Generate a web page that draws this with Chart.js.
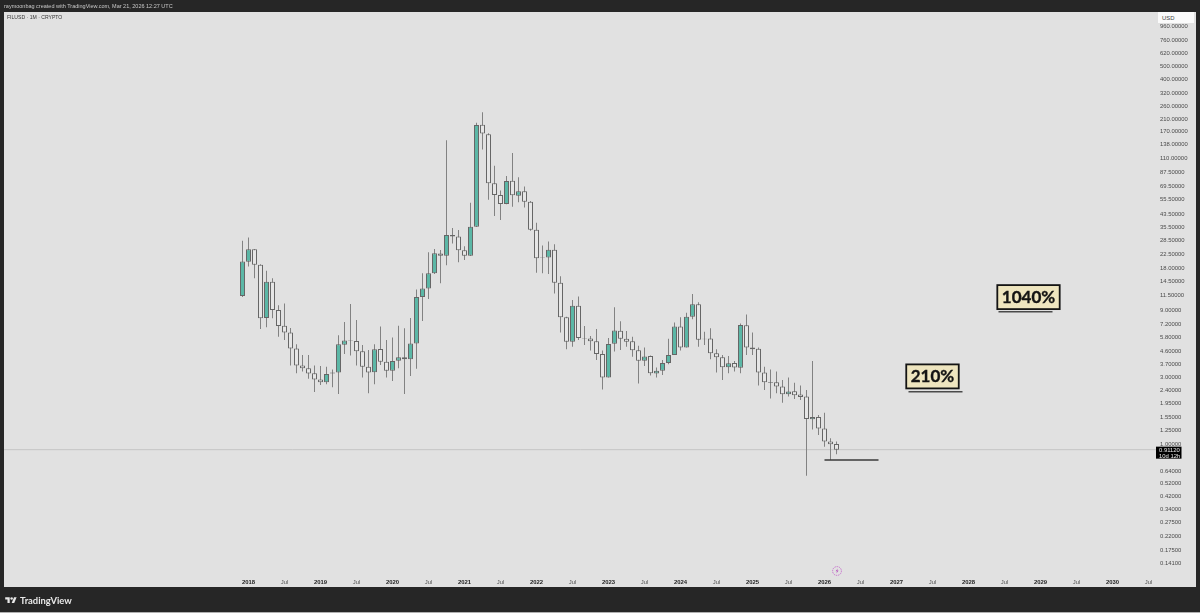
<!DOCTYPE html>
<html><head><meta charset="utf-8">
<style>
html,body{margin:0;padding:0;background:#262626;width:1200px;height:613px;overflow:hidden;font-family:"Liberation Sans",Arial,sans-serif}
#panel{position:absolute;left:4px;top:12px;width:1192px;height:575px;background:#e1e1e1}
#c{position:absolute;left:0;top:0}
.t{position:absolute;white-space:nowrap}
#hdr{left:4px;top:2px;font-size:5.5px;line-height:8px;color:#c8c8c8}
#sym{left:7px;top:13.5px;font-size:5.1px;line-height:7px;color:#333}
#usd{left:1158px;top:12px;width:36px;height:11px;background:#fbfbfb}
#usdt{left:1162px;top:14.5px;font-size:5.9px;line-height:7px;color:#444}
#tv{left:20px;top:593.5px;font-family:Lato,sans-serif;font-weight:700;font-size:9.4px;line-height:13px;color:#e8e8e8}
#logo{position:absolute;left:5px;top:596px}
#bolt{position:absolute;left:831px;top:565px}
#strip{position:absolute;left:0;top:612px;width:1200px;height:1px;background:#b0b0b0}
</style></head><body>
<div id="panel"></div>
<canvas id="c" width="1200" height="613"></canvas>
<div class="t" id="hdr">raymoonbag created with TradingView.com, Mar 21, 2026 12:27 UTC</div>
<div class="t" id="sym">FILUSD · 1M · CRYPTO</div>
<div class="t" id="usd"></div><div class="t" id="usdt">USD</div>
<svg id="logo" width="12" height="9" viewBox="0 0 36 28"><path fill="#e8e8e8" d="M14 22H7V11H0V4h14v18zM28 22h-8l7.5-18h8L28 22z"/><circle fill="#e8e8e8" cx="20" cy="8" r="4"/></svg>
<div class="t" id="tv">TradingView</div>
<svg id="bolt" width="12" height="12" viewBox="0 0 12 12"><circle cx="6" cy="6" r="4.4" fill="none" stroke="#c25ac9" stroke-width="0.8" stroke-dasharray="1.4 0.8"/><path d="M6.8 3.4 4.6 6.3h1.5L5.3 8.6 7.6 5.6H6.1z" fill="#b44fbb"/></svg>
<div id="strip"></div>
<script src="https://cdn.jsdelivr.net/npm/chart.js@4/dist/chart.umd.min.js"></script>
<script>
// Monthly candles, Dec 2017 .. Mar 2026 (FILUSD)
const firstYear = 2014, firstMonth = 9, monthCount = 192, leadingBlank = 39;
const opens = [11.4,20.0,24.6,19.1,7.94,14.4,9.06,7.0,6.27,4.82,3.63,3.47,3.2,2.89,2.76,3.19,3.24,5.12,5.5,5.44,4.59,3.56,3.26,4.77,3.87,3.34,3.94,4.16,4.03,5.22,11.2,12.9,16.6,22.9,22.1,31.1,30.4,24.2,22.1,35.7,191,163,72.8,60,51.8,76,59.4,63.9,53.8,33.9,21.3,21.5,24.4,14.2,8.03,5.38,9.73,5.72,5.66,5.41,4.39,2.99,5.2,6.45,5.65,5.41,4.67,3.94,4.25,3.19,3.34,3.79,4.33,6.9,4.9,8.12,9.95,5.65,5.68,4.44,4.16,3.54,3.79,3.5,7.05,4.9,4.8,3.24,2.77,2.76,2.58,2.27,2.38,2.26,2.18,1.5,1.56,1.29,1.04,1.0];
const highs = [28.3,29.9,24.7,19.2,17.3,15.3,9.8,10.1,6.74,5.15,4.32,4.32,3.63,3.6,3.56,3.41,5.98,7.44,10.0,7.69,5.1,4.7,5.15,6.9,5.53,5.77,7.0,6.7,7.94,12.7,16.6,23.4,24.7,24.3,148,34.9,33.8,25.9,52.9,197,234,166,97.3,64.7,82,120,80.3,69,54.4,38.1,26.2,27.9,26.7,15.8,8.1,10.66,11.3,6.97,5.91,6.63,4.65,5.72,9.47,7.52,6.41,5.84,5.03,4.88,4.29,3.52,3.98,5.65,7.39,8.03,8.65,11.8,10.3,6.34,6.7,4.75,4.32,4.25,3.92,7.27,8.4,6.27,4.88,3.56,3.41,3.29,2.86,2.99,2.74,2.62,2.43,3.92,1.61,1.67,1.1,1.04];
const lows = [11.2,18.5,15.3,6.63,6.82,7.9,5.84,5.53,3.63,3.2,3.29,2.93,2.35,2.64,2.67,2.54,2.28,4.39,4.29,3.63,2.99,2.3,2.67,3.67,2.99,2.82,3.47,2.28,3.06,3.45,7.56,10.85,16.4,14.05,18.9,27.1,19.9,20.6,22,35.5,127,55.5,42.5,39.8,51.5,49.6,53.2,48.8,33.4,16.7,16.6,16.4,11.9,6.27,4.75,4.96,5.53,5.1,4.65,3.98,2.45,2.98,4.57,4.7,4.96,4.2,2.71,3.6,3.08,2.98,3.11,3.71,4.32,4.65,4.88,7.78,4.96,5.1,4.03,3.24,2.86,3.2,3.29,3.2,4.32,4.32,2.62,2.43,2.11,2.3,1.97,2.18,2.1,2.06,0.594,1.27,1.16,0.957,0.77,0.844];
const closes = [20.1,24.6,19.1,7.9,14.4,9.06,6.97,6.27,4.82,3.63,3.47,3.19,2.89,2.76,3.16,3.24,5.15,5.48,5.47,4.59,3.56,3.24,4.75,3.87,3.34,3.92,4.16,4.03,5.22,11.2,12.9,16.6,23.0,22.1,31.1,30.4,24.2,22.1,35.7,190,165,72.8,60,51.8,75.6,59.7,63.9,53.8,33.9,21.2,21.5,24.4,14.2,8.03,5.38,9.73,5.72,5.66,5.41,4.39,2.99,5.17,6.46,5.65,5.38,4.67,3.94,4.22,3.2,3.34,3.79,4.33,6.9,4.9,8.12,9.95,5.56,5.59,4.44,4.16,3.54,3.77,3.52,7.08,4.88,4.75,3.24,2.76,2.74,2.57,2.27,2.37,2.23,2.17,1.51,1.56,1.29,1.04,0.995,0.9112];
const priceTicks = [960,760,620,500,400,320,260,210,170,138,110,87.5,69.5,55.5,43.5,35.5,28.5,22.5,18,14.5,11.5,9,7.2,5.8,4.6,3.7,3,2.4,1.95,1.55,1.25,1,0.64,0.52,0.42,0.34,0.275,0.22,0.175,0.141];
const lastPrice = 0.9112, priceTagLines = ['0.91120','10d 12h'];
const supportLine = [['2026-01',0.769],['2026-10',0.769]];
const target210Line = [['2027-03',2.36],['2027-12',2.36]];
const target1040Line = [['2028-06',8.81],['2029-03',8.81]];
const calloutTexts = ['210%','1040%'];
const calloutMonths = ['2027-07','2028-11'];
const calloutPrices = [3.04,11.2];

const months = [];
for (let i = 0; i < monthCount; i++) {
  const m = firstYear*12 + firstMonth-1 + i;
  months.push(Math.floor(m/12) + '-' + String(m%12+1).padStart(2,'0'));
}
const blank = new Array(leadingBlank).fill(null);
const wicks = blank.concat(highs.map((h,i)=>[lows[i],h]));
const bodies = blank.concat(opens.map((o,i)=>[o,closes[i]]));
const isUp = i => { const b = bodies[i]; return b && b[1] > b[0]; };
const toXY = a => a.map(p=>({x:p[0],y:p[1]}));
const hline = (pts,color,w) => ({type:'line',data:toXY(pts),borderColor:color,borderWidth:w,pointRadius:0,parsing:true,order:0});

const overlay = {
  id:'overlay',
  beforeDatasetsDraw(ch){
    const c=ch.ctx, y=ch.scales.y.getPixelForValue(lastPrice);
    c.save();c.strokeStyle='#c4c4c4';c.lineWidth=1;c.beginPath();
    c.moveTo(4,y);c.lineTo(ch.chartArea.right,y);c.stroke();c.restore();
  },
  afterDraw(ch){
    const c=ch.ctx,xs=ch.scales.x,ys=ch.scales.y;
    c.save();
    c.font='700 17px Lato, sans-serif';c.textAlign='center';c.textBaseline='middle';
    calloutTexts.forEach((t,i)=>{
      const x=xs.getPixelForValue(calloutMonths[i]),y=ys.getPixelForValue(calloutPrices[i]);
      const w=c.measureText(t).width+9,h=24;
      c.fillStyle='#eee5bf';c.strokeStyle='#141414';c.lineWidth=1.8;
      c.fillRect(x-w/2,y-h/2,w,h);c.strokeRect(x-w/2,y-h/2,w,h);
      c.fillStyle='#141414';c.strokeStyle='#141414';c.lineWidth=0.35;
      c.fillText(t,x,y+0.5);c.strokeText(t,x,y+0.5);
    });
    const ty=ys.getPixelForValue(lastPrice), tx=ch.chartArea.right-1.5;
    c.fillStyle='#000';c.fillRect(tx,ty-3,25.5,12);
    c.font='5.9px "Liberation Sans", Arial, sans-serif';c.textAlign='left';c.fillStyle='#e8e8e8';
    c.fillText(priceTagLines[0],tx+3,ty+0.5);
    c.fillText(priceTagLines[1],tx+3,ty+6.5);
    c.restore();
  }
};

new Chart(document.getElementById('c'),{
  type:'bar',
  data:{labels:months,datasets:[
    hline(supportLine,'#3a3a3a',1.5),
    hline(target210Line,'#4a4a4a',1.5),
    hline(target1040Line,'#4a4a4a',1.5),
    {label:'Body',data:bodies,barThickness:5,grouped:false,order:1,borderWidth:1,borderSkipped:false,inflateAmount:0,
     backgroundColor:c=>isUp(c.dataIndex)?'#5bb7a6':'#e6e6e6',borderColor:'#666666'},
    {label:'Wick',data:wicks,barThickness:1,grouped:false,order:2,borderWidth:0,inflateAmount:0,backgroundColor:'#828282'}
  ]},
  plugins:[overlay],
  options:{
    responsive:false,animation:false,events:[],
    layout:{padding:{left:5.5,top:12,right:0,bottom:0}},
    plugins:{legend:{display:false},tooltip:{enabled:false}},
    scales:{
      x:{type:'category',offset:true,grid:{display:false,drawTicks:false},border:{display:false},
        afterFit(s){s.height=39;},
        ticks:{autoSkip:false,maxRotation:0,minRotation:0,padding:5,
          callback(v,i){const l=months[i];if(l<'2018')return '';const m=l.slice(5);
            return m==='01'?l.slice(0,4):m==='07'?'Jul':'';},
          font:c=>({family:'"Liberation Sans", Arial, sans-serif',size:5.9,weight:c.tick&&c.tick.label==='Jul'?'400':'700'}),
          color:c=>c.tick&&c.tick.label==='Jul'?'#555':'#222'}},
      y:{type:'logarithmic',position:'right',min:0.1179,max:1218,grid:{display:false,drawTicks:false},border:{display:false},
        afterFit(s){s.width=42.5;},
        afterBuildTicks(s){s.ticks=priceTicks.map(v=>({value:v}));},
        ticks:{padding:2.5,autoSkip:false,callback:v=>Number(v).toFixed(5),
          font:{family:'"Liberation Sans", Arial, sans-serif',size:5.9},color:'#4a4a4a'}}
    }
  }
});
</script>
</body></html>
